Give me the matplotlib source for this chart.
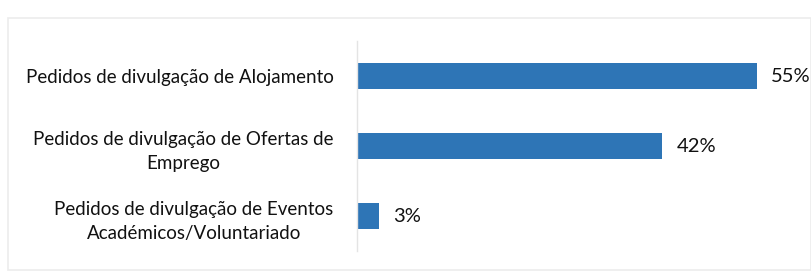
import matplotlib
matplotlib.use("Agg")
import matplotlib.pyplot as plt
from matplotlib.patches import Rectangle

categories = [
    "Pedidos de divulgação de Alojamento",
    "Pedidos de divulgação de Ofertas de\nEmprego",
    "Pedidos de divulgação de Eventos\nAcadémicos/Voluntariado",
]
values = [55, 42, 3]
value_labels = ["55%", "42%", "3%"]

plt.rcParams['font.family'] = ['Lato', 'DejaVu Sans']

W, H = 811, 276
fig = plt.figure(figsize=(W / 100, H / 100), dpi=100)
fig.patch.set_facecolor('white')

# faint outer frame
fig.patches.append(Rectangle((8 / W, 6 / H), (W - 8) / W, (H - 18 - 6) / H,
                             transform=fig.transFigure, fill=False,
                             edgecolor='#ececec', linewidth=1.2))

ax_left, ax_right = 357, 800
ax_top, ax_bottom = 41, 251
ax = fig.add_axes([ax_left / W, 1 - ax_bottom / H,
                   (ax_right - ax_left) / W, (ax_bottom - ax_top) / H])

px_per_unit = 400 / 55
ax.set_xlim(0, (ax_right - ax_left) / px_per_unit)
ypos = list(range(len(categories)))
ax.barh(ypos, values, height=0.36, color='#2e75b6')
ax.set_ylim(len(categories) - 0.5, -0.5)

for y, v, lab in zip(ypos, values, value_labels):
    ax.text(v + 1.9, y, lab, va='center', ha='left', fontsize=14.5, color='#111111')

ax.set_yticks(ypos)
ax.set_yticklabels(categories, fontsize=13.5, color='#111111', multialignment='center',
                   linespacing=1.5)
ax.tick_params(axis='y', length=0, pad=17)
ax.set_xticks([])
for s in ['top', 'right', 'bottom']:
    ax.spines[s].set_visible(False)
ax.spines['left'].set_color('#e4e4e4')
ax.spines['left'].set_linewidth(1.0)

fig.savefig('out.png', dpi=100, facecolor='white')
